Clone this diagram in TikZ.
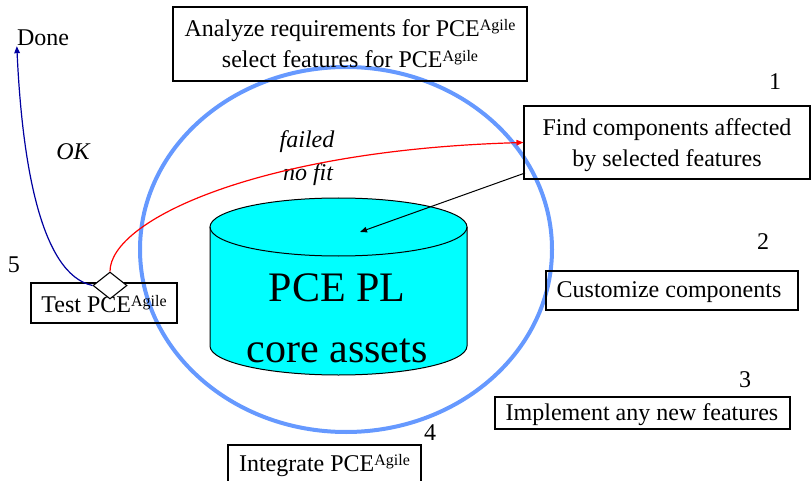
\documentclass[tikz,border=0pt]{standalone}
\usepackage{fontspec}
\setmainfont{Liberation Serif}
\usetikzlibrary{arrows.meta,shapes.geometric}
\definecolor{ringblue}{RGB}{102,153,255}
\definecolor{okblue}{RGB}{0,0,160}
\definecolor{cylcyan}{RGB}{0,255,255}
\newcommand\ag{\raisebox{6pt}{\fontsize{16}{16}\selectfont Agile}}
\tikzset{
  box/.style={draw=black, line width=1.1pt, inner sep=0pt, align=center},
  txt/.style={font=\fontsize{24}{31}\selectfont, inner sep=0pt, align=center},
  lab/.style={font=\fontsize{24}{31}\selectfont\itshape, inner sep=0pt},
  tip/.style={-{Triangle[length=7pt,width=5.5pt]}},
}
\begin{document}
\begin{tikzpicture}[x=1pt,y=-1pt]
\useasboundingbox (0,0) rectangle (811,481);
\clip (0,0) rectangle (811,481);
% ring
\draw[ringblue, line width=4pt] (346,249.5) ellipse [x radius=206, y radius=182.5];
% cylinder
\fill[cylcyan] (210,227) -- (210,346) arc[start angle=180,end angle=0,x radius=128.5,y radius=29]
  -- (467,227) arc[start angle=0,end angle=-180,x radius=128.5,y radius=29] -- cycle;
\draw[line width=1pt] (210,227) -- (210,346) arc[start angle=180,end angle=0,x radius=128.5,y radius=29] -- (467,227);
\draw[line width=1pt] (338.5,227) ellipse [x radius=128.5, y radius=29];
\node[font=\fontsize{42}{61}\selectfont, align=center, inner sep=0pt] (pcepl) at (337,318) {PCE PL\\core assets};
\coordinate (cyltop) at (360,232);
% boxes
\node[box, minimum width=354, minimum height=74] (analyze) at (350,44) {};
\node[txt] (analyzet) at (350,44) {Analyze requirements for PCE\ag\\select features for PCE\ag};
\node[box, minimum width=286, minimum height=73] (find) at (667,142.5) {};
\node[txt] (findt) at (667,145) {Find components affected\\by selected features};
\node[box, minimum width=252, minimum height=39] (custom) at (672,290.5) {};
\node[txt] (customt) at (669,292) {Customize components};
\node[box, minimum width=295, minimum height=32] (impl) at (642.5,413) {};
\node[txt] (implt) at (642,415) {Implement any new features};
\node[box, minimum width=193, minimum height=40] (integ) at (324.5,465) {};
\node[txt] (integt) at (324.5,466) {Integrate PCE\ag};
\node[box, minimum width=146, minimum height=40] (test) at (104,303) {};
\node[txt] (testt) at (104,304) {Test PCE\ag};
\node[diamond, draw=black, fill=white, line width=1.1pt, minimum width=34, minimum height=27, inner sep=0pt] (dia) at (110,285.5) {};
% numbers and labels
\node[txt] (n1) at (775,82) {1};
\node[txt] (n2) at (763,242) {2};
\node[txt] (n3) at (745,380) {3};
\node[txt] (n4) at (430,433) {4};
\node[txt] (n5) at (14,265) {5};
\node[txt] (done) at (43,38) {Done};
\node[lab] (ok) at (73,152) {OK};
\node[lab] (failed) at (307,142) {failed};
\node[lab] (nofit) at (308,175) {no fit};
% connectors
\draw[okblue, line width=1.2pt, tip] (dia.west) .. controls (40,274) and (22,160) .. (done.south west);
\draw[red, line width=1.2pt, tip] (dia.north) .. controls (110,220) and (260,150) .. (find.west);
\coordinate (fstart) at (525,173);
\draw[black, line width=1pt, tip] (fstart) -- (cyltop);
\end{tikzpicture}
\end{document}
